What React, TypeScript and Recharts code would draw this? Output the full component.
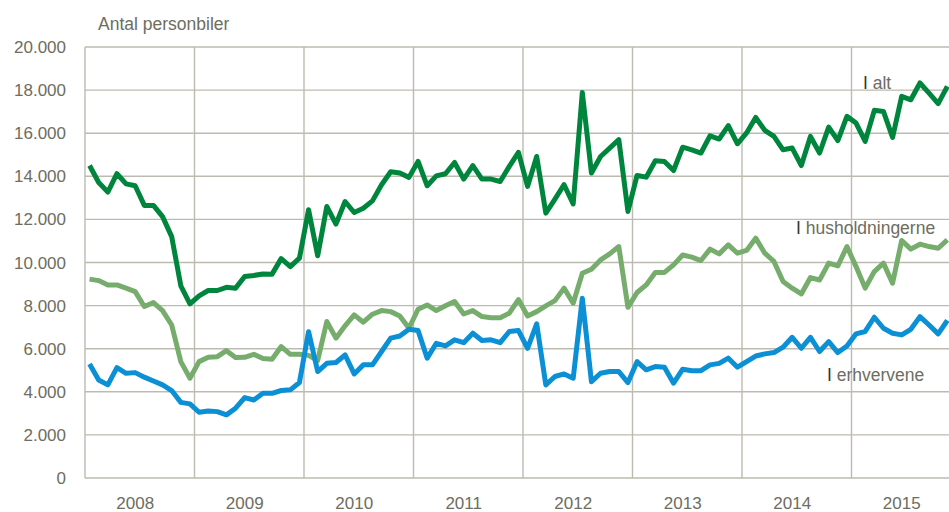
import { LineChart, Line, XAxis, YAxis, CartesianGrid } from 'recharts';

const years = [2008, 2009, 2010, 2011, 2012, 2013, 2014, 2015];

// Monthly values, Jan 2008 - Nov 2015
const total = [
  14500, 13710, 13270, 14120, 13650, 13560, 12650, 12650, 12130, 11200, 8920, 8080,
  8450, 8700, 8700, 8850, 8810, 9350, 9400, 9470, 9460, 10180, 9810, 10200,
  12450, 10310, 12600, 11780, 12830, 12320, 12520, 12860, 13610, 14210, 14150, 13950,
  14690, 13560, 14020, 14120, 14640, 13870, 14500, 13870, 13870, 13760, 14460, 15110,
  13530, 14920, 12290, 12940, 13610, 12720, 17890, 14150, 14920, 15310, 15700, 12370,
  14040, 13960, 14720, 14690, 14270, 15350, 15230, 15080, 15880, 15730, 16350, 15510,
  16010, 16730, 16130, 15850, 15230, 15310, 14500, 15850, 15080, 16280, 15660, 16780,
  16470, 15620, 17060, 17010, 15800, 17710, 17550, 18330, 17860, 17370, 18170,
];

const households = [
  9230, 9160, 8960, 8960, 8810, 8650, 7960, 8140, 7770, 7100, 5400, 4630,
  5400, 5600, 5630, 5910, 5590, 5600, 5740, 5540, 5510, 6100, 5740, 5740,
  5690, 5450, 7260, 6490, 7060, 7570, 7230, 7600, 7770, 7720, 7520, 6950,
  7830, 8030, 7770, 7990, 8190, 7610, 7770, 7490, 7440, 7440, 7650, 8280,
  7520, 7720, 7990, 8230, 8810, 8110, 9500, 9690, 10120, 10400, 10740, 7920,
  8610, 8960, 9540, 9540, 9890, 10350, 10250, 10090, 10620, 10400, 10820, 10430,
  10560, 11130, 10430, 10050, 9120, 8810, 8540, 9300, 9190, 9970, 9840, 10740,
  9810, 8810, 9580, 9970, 9040, 11020, 10620, 10850, 10740, 10660, 11050,
];

const business = [
  5290, 4550, 4320, 5120, 4860, 4890, 4680, 4500, 4320, 4060, 3510, 3440,
  3050, 3110, 3080, 2930, 3240, 3730, 3620, 3930, 3930, 4060, 4090, 4430,
  6790, 4940, 5320, 5360, 5710, 4830, 5250, 5250, 5870, 6490, 6590, 6900,
  6840, 5560, 6250, 6130, 6410, 6280, 6720, 6380, 6410, 6280, 6800, 6840,
  6020, 7150, 4320, 4710, 4830, 4630, 8340, 4470, 4860, 4940, 4940, 4430,
  5400, 5020, 5170, 5140, 4400, 5050, 4980, 4980, 5250, 5320, 5560, 5140,
  5400, 5660, 5760, 5820, 6070, 6530, 6020, 6530, 5870, 6330, 5820, 6130,
  6690, 6800, 7460, 6950, 6720, 6640, 6900, 7490, 7100, 6690, 7310,
];

const yTicks = [0, 2000, 4000, 6000, 8000, 10000, 12000, 14000, 16000, 18000, 20000];

const data = total.map((v, i) => ({
  t: i + 0.5,
  total: v,
  households: households[i],
  business: business[i],
}));

const months = years.length * 12;
const yearEdges = [...years.map((_, i) => i * 12), months];
const yearMids = years.map((_, i) => i * 12 + 5.5);

const textColor = '#6d6d60';
const gridColor = '#bdbbaf';
const font = 'Arial, "Liberation Sans", sans-serif';

const fmt = (v: number) => v.toLocaleString('de-DE');

// vertical grid lines at the year boundaries, through the x scale
const yearGrid = ({ xAxis, offset }: any) => {
  const scale = xAxis && xAxis.scale;
  if (typeof scale === 'function') return yearEdges.map((e) => scale(e));
  return yearEdges.map((e) => offset.left + (e / months) * offset.width);
};

export default function App() {
  return (
    <div style={{ position: 'fixed', left: 0, top: 0, width: 949, height: 512, overflow: 'hidden', background: '#fff', fontFamily: font }}>
      <LineChart
        width={971}
        height={512}
        data={data}
        margin={{ top: 47, right: 10, bottom: 4, left: 10 }}
      >
        <CartesianGrid stroke={gridColor} strokeWidth={1.4} verticalCoordinatesGenerator={yearGrid} />
        <XAxis
          dataKey="t"
          type="number"
          domain={[0, months]}
          ticks={yearMids}
          interval={0}
          tickFormatter={(v: number) => String(years[Math.round((v - 5.5) / 12)])}
          axisLine={false}
          tickLine={false}
          tickSize={6}
          tickMargin={13}
          tick={{ fill: textColor, fontSize: 17, fontFamily: font }}
          height={30}
        />
        <YAxis
          domain={[0, 20000]}
          ticks={yTicks}
          interval={0}
          tickFormatter={fmt}
          axisLine={false}
          tickLine={false}
          tickSize={6}
          tickMargin={13}
          width={75}
          tick={{ fill: textColor, fontSize: 17, fontFamily: font }}
        />
        <Line dataKey="households" stroke="#76ad6d" strokeWidth={5} dot={false} isAnimationActive={false} strokeLinejoin="round" />
        <Line dataKey="business" stroke="#0b8fd5" strokeWidth={5} dot={false} isAnimationActive={false} strokeLinejoin="round" />
        <Line dataKey="total" stroke="#00853d" strokeWidth={5} dot={false} isAnimationActive={false} strokeLinejoin="round" />
      </LineChart>
      <div style={{ position: 'absolute', left: 98, top: 14, fontSize: 17.5, color: textColor, whiteSpace: 'nowrap' }}>Antal personbiler</div>
      <div style={{ position: 'absolute', left: 863, top: 73, fontSize: 17.5, color: textColor, whiteSpace: 'nowrap' }}><span style={{ color: '#333' }}>I</span> alt</div>
      <div style={{ position: 'absolute', left: 796, top: 218, fontSize: 17.5, color: textColor, whiteSpace: 'nowrap' }}><span style={{ color: '#333' }}>I</span> husholdningerne</div>
      <div style={{ position: 'absolute', left: 827, top: 365, fontSize: 17.5, color: textColor, whiteSpace: 'nowrap' }}><span style={{ color: '#333' }}>I</span> erhvervene</div>
    </div>
  );
}
